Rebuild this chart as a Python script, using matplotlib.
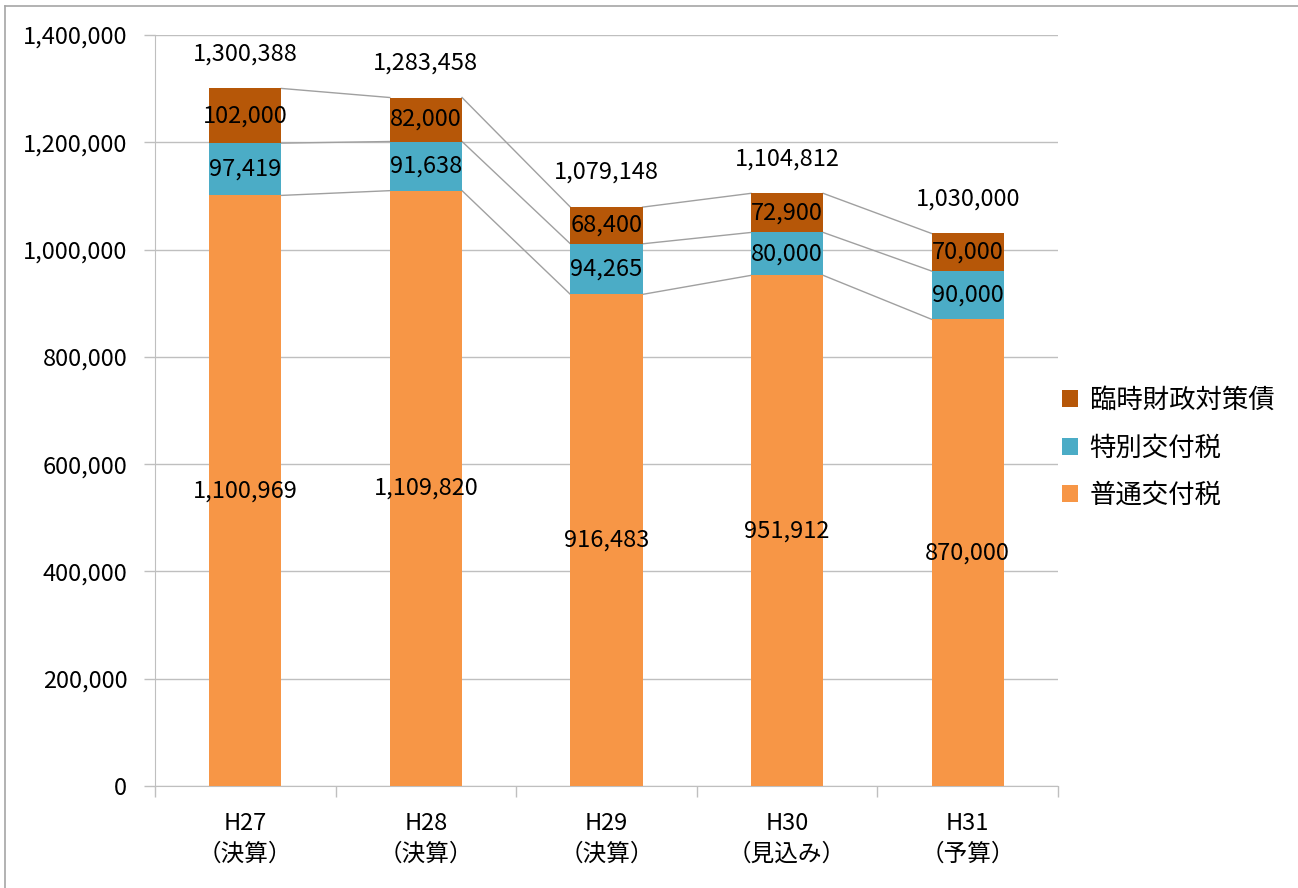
import matplotlib
matplotlib.use("Agg")
import matplotlib.pyplot as plt
from matplotlib.lines import Line2D
from matplotlib.patches import Patch
import numpy as np

plt.rcParams['font.family'] = ['Noto Sans CJK JP', 'DejaVu Sans']

categories = ["H27\n（決算）", "H28\n（決算）", "H29\n（決算）", "H30\n（見込み）", "H31\n（予算）"]
futsu = [1100969, 1109820, 916483, 951912, 870000]      # 普通交付税
tokubetsu = [97419, 91638, 94265, 80000, 90000]          # 特別交付税
rinji = [102000, 82000, 68400, 72900, 70000]             # 臨時財政対策債
totals = [1300388, 1283458, 1079148, 1104812, 1030000]
series_names = ["普通交付税", "特別交付税", "臨時財政対策債"]
colors = ["#F79646", "#4BACC6", "#B65708"]

W, H = 1298, 888
fig = plt.figure(figsize=(W / 100, H / 100), dpi=100)
ax = fig.add_axes([155 / W, 1 - 786 / H, (1058 - 155) / W, (786 - 35) / H])

x = np.arange(len(categories))
bw = 0.40
series = [futsu, tokubetsu, rinji]
bottom = np.zeros(len(categories))
tops = []
for vals, name, c in zip(series, series_names, colors):
    vals = np.array(vals, dtype=float)
    ax.bar(x, vals, bw, bottom=bottom, color=c, label=name, zorder=3)
    for xi, b, v in zip(x, bottom, vals):
        ax.text(xi, b + v / 2, f"{int(v):,}", ha="center", va="center",
                fontsize=17, color="black", zorder=5)
    bottom = bottom + vals
    tops.append(bottom.copy())

# connector lines between bars
for t in tops:
    for i in range(len(categories) - 1):
        ax.plot([x[i] + bw / 2, x[i + 1] - bw / 2], [t[i], t[i + 1]],
                color="#A0A0A0", lw=1.0, zorder=2)

# totals above bars
for xi, tv in zip(x, totals):
    ax.annotate(f"{tv:,}", (xi, tv), xytext=(0, 25), textcoords="offset points",
                ha="center", va="center", fontsize=17, color="black")

ax.set_xlim(-0.5, len(categories) - 0.5)
ax.set_ylim(0, 1400000)
ax.set_yticks(np.arange(0, 1400001, 200000))
ax.yaxis.set_major_formatter(matplotlib.ticker.FuncFormatter(lambda v, p: f"{int(v):,}"))
ax.grid(axis="y", color="#BFBFBF", lw=1.0, zorder=0)
ax.set_axisbelow(True)

ax.set_xticks(np.arange(-0.5, len(categories), 1.0))
ax.set_xticklabels([])
ax.set_xticks(x, minor=True)
ax.set_xticklabels(categories, minor=True, fontsize=17, linespacing=1.4)
ax.tick_params(axis="x", which="minor", length=0, pad=19)
ax.tick_params(axis="x", which="major", length=8, color="#BFBFBF", width=1.0)
ax.tick_params(axis="y", length=8, color="#BFBFBF", width=1.0, labelsize=17, pad=12)

for s in ["top", "right"]:
    ax.spines[s].set_visible(False)
ax.spines["left"].set_color("#BFBFBF")
ax.spines["bottom"].set_color("#BFBFBF")

handles = [Patch(facecolor=colors[2]), Patch(facecolor=colors[1]), Patch(facecolor=colors[0])]
labels = [series_names[2], series_names[1], series_names[0]]
fig.legend(handles, labels, loc="center left", bbox_to_anchor=(1062 / W, 1 - 448 / H),
           frameon=False, fontsize=19, handlelength=0.6, handleheight=0.6,
           handletextpad=0.45, labelspacing=0.78, borderaxespad=0, borderpad=0)

# outer border (top and left)
fig.add_artist(Line2D([5 / W, 5 / W], [0, 1 - 6 / H], transform=fig.transFigure, color="#A6A6A6", lw=1.2))
fig.add_artist(Line2D([5 / W, 1], [1 - 6 / H, 1 - 6 / H], transform=fig.transFigure, color="#A6A6A6", lw=1.2))

fig.savefig("out.png", dpi=100)
